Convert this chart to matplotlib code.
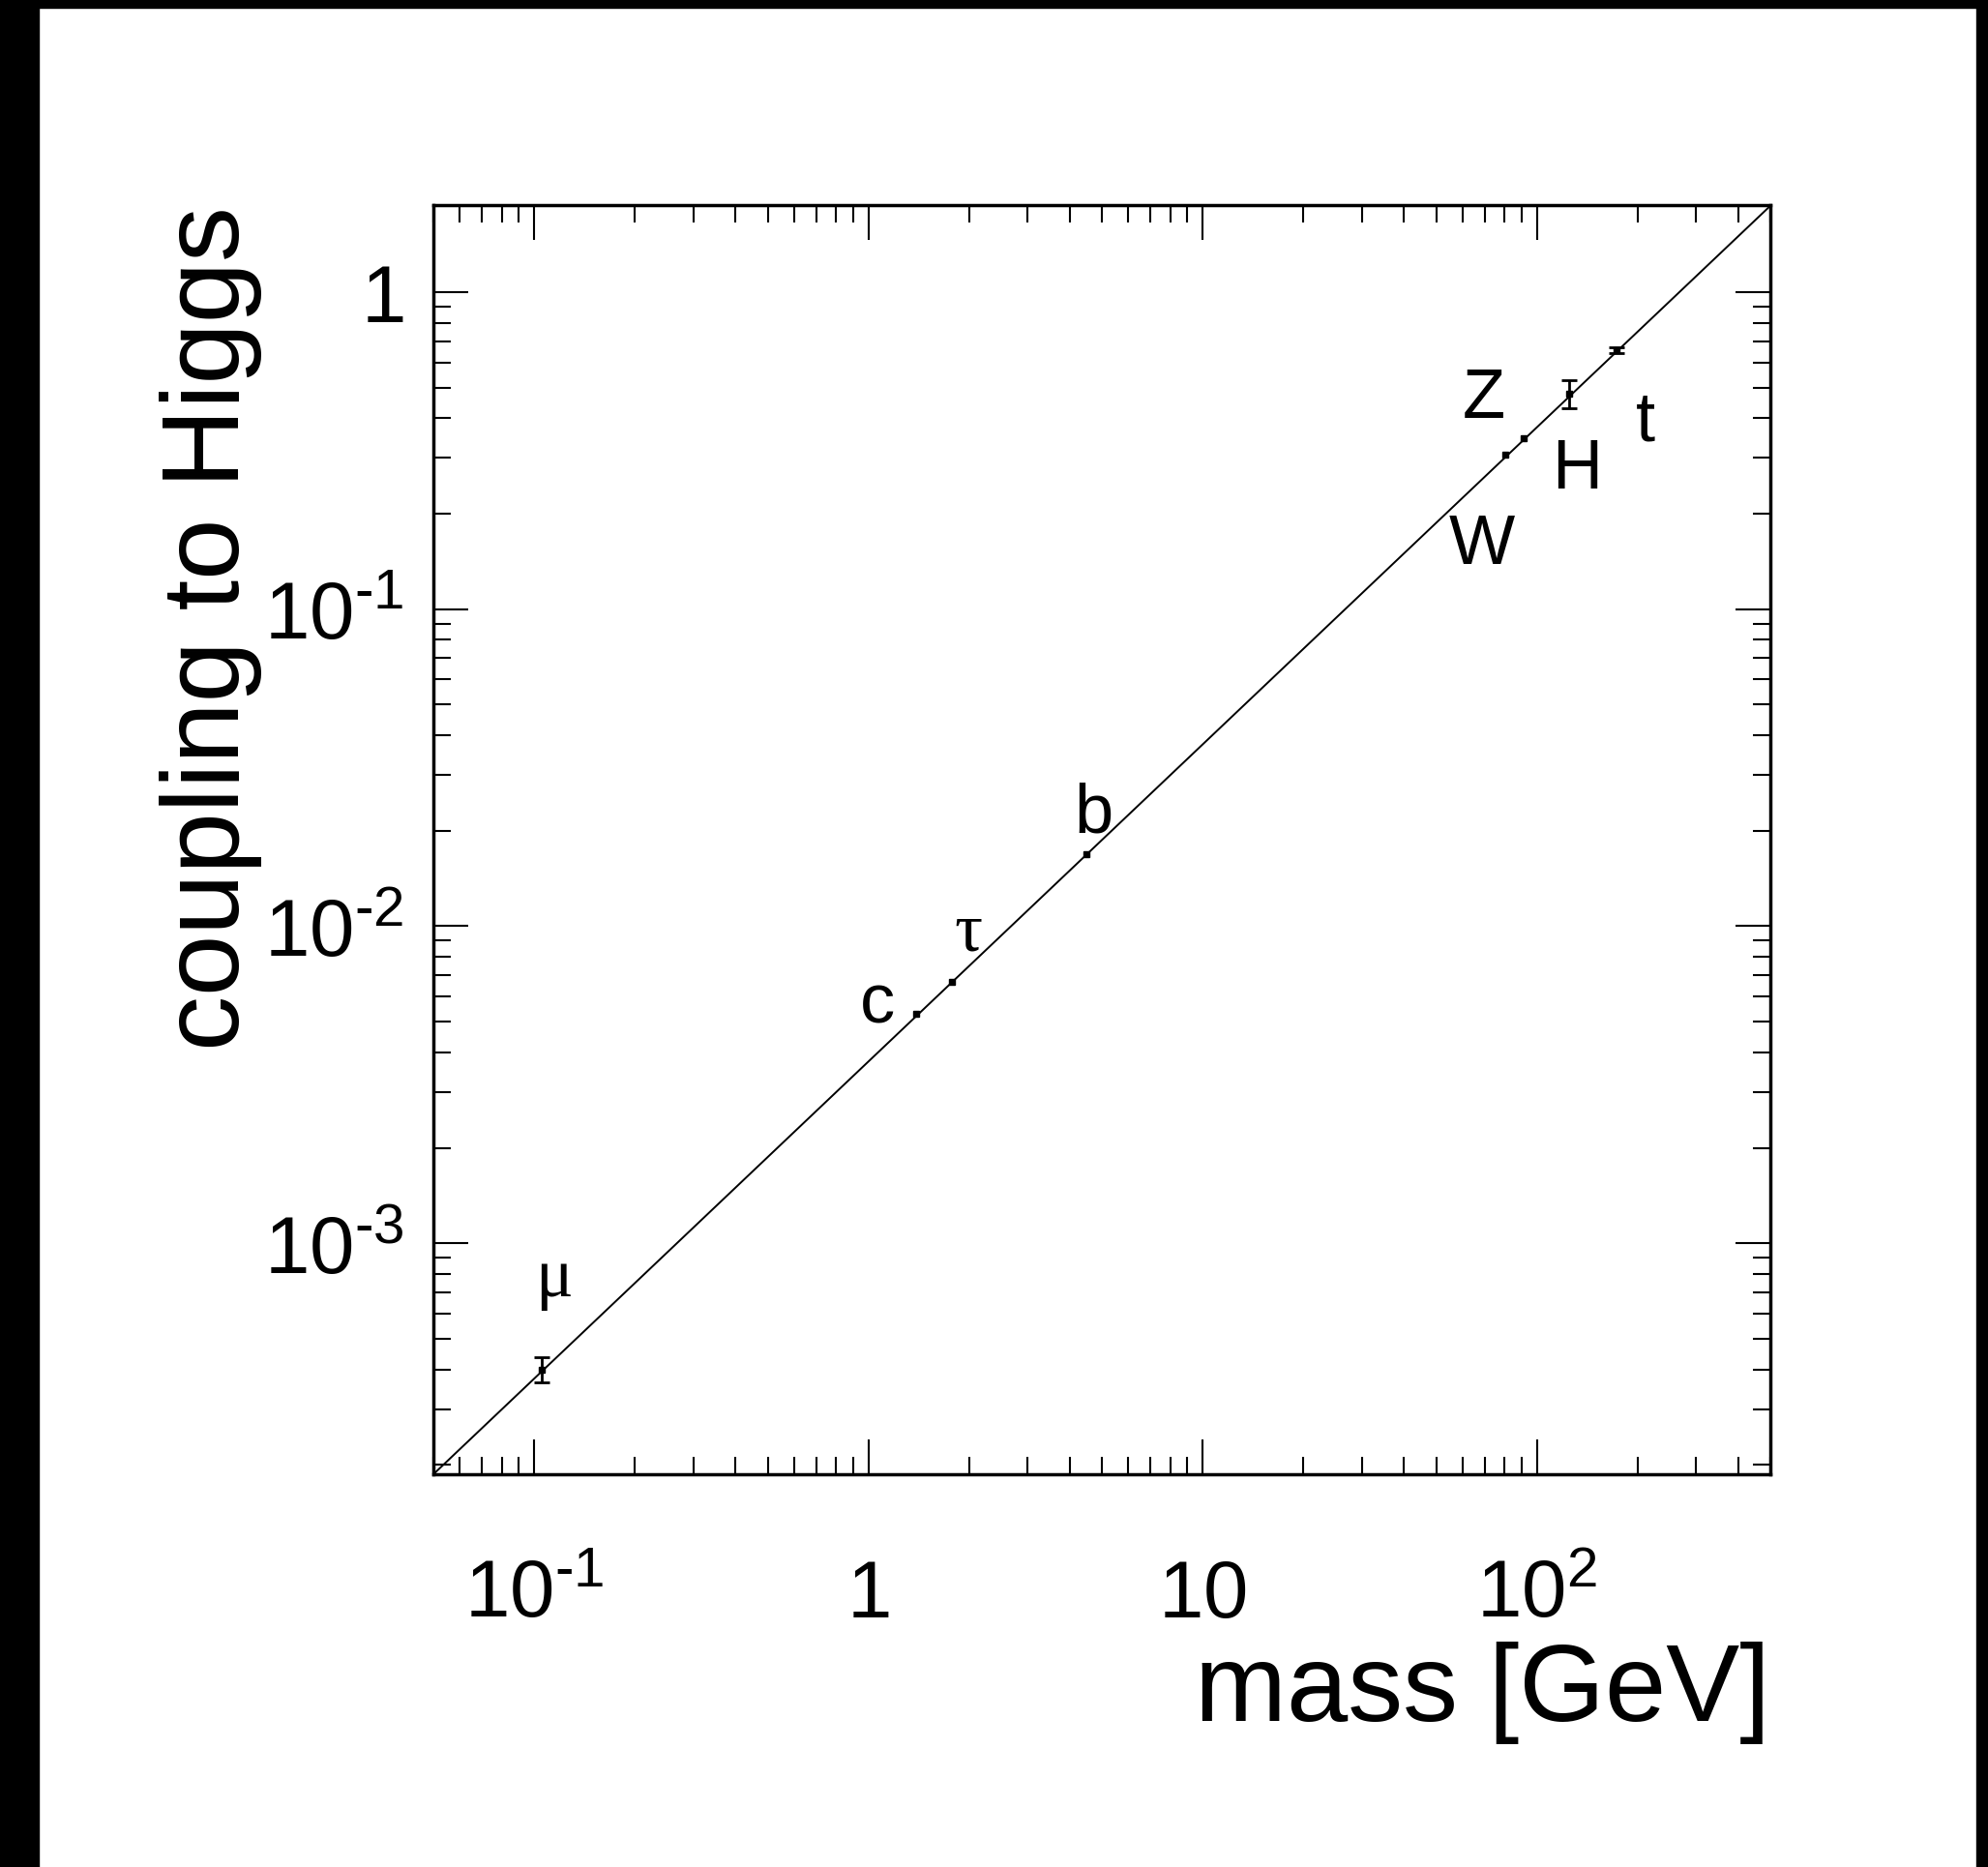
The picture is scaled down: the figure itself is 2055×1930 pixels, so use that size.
import matplotlib
matplotlib.use("Agg")
import matplotlib.pyplot as plt
from matplotlib.patches import Rectangle
from matplotlib.ticker import FixedLocator, FixedFormatter, LogLocator, NullFormatter

plt.rcParams['font.family'] = ['Liberation Sans', 'DejaVu Sans']
plt.rcParams['mathtext.fontset'] = 'custom'
plt.rcParams['mathtext.rm'] = 'Liberation Sans'
plt.rcParams['mathtext.it'] = 'Liberation Sans:italic'

# particle masses [GeV] and their couplings to the Higgs
names = ['mu', 'c', 'tau', 'b', 'W', 'Z', 'H', 't']
labels = [u'\u03bc', 'c', u'\u03c4', 'b', 'W', 'Z', 'H', 't']
mass = [0.1057, 1.39, 1.777, 4.5, 80.4, 91.2, 125.0, 173.0]
coupling = [4.0e-4, 5.3e-3, 6.68e-3, 1.69e-2, 0.307, 0.346, 0.479, 0.656]
err_lo = [0.36e-4, 0, 0, 0, 0, 0, 0.05, 0.013]
err_hi = [0.36e-4, 0, 0, 0, 0, 0, 0.05, 0.013]

# straight m/v line across the plot
line_mass = [0.05, 500.0]
line_coupling = [1.87e-4, 1.87]

xticks = [0.1, 1, 10, 100]
xticklabels = [r'$\mathregular{10^{\text{-}1}}$', r'$\mathregular{1}$',
               r'$\mathregular{10}$', r'$\mathregular{10^{2}}$']
yticks = [1e-3, 1e-2, 1e-1, 1]
yticklabels = [r'$\mathregular{10^{\text{-}3}}$', r'$\mathregular{10^{\text{-}2}}$',
               r'$\mathregular{10^{\text{-}1}}$', r'$\mathregular{1}$']

# label offsets in points from each point
offsets = {'mu': (8.6, 68), 'c': (-29, 7), 'tau': (12, 37), 'b': (5, 30),
           'W': (-17, -67), 'Z': (-29.5, 29), 'H': (6, -57), 't': (21.5, -53)}

fig = plt.figure(figsize=(20.55, 19.31), dpi=100)
fig.patch.set_facecolor('white')
# dark frame strips round the canvas
fig.patches.append(Rectangle((0, 0), 40/2055., 1, transform=fig.transFigure, color='black', zorder=0))
fig.patches.append(Rectangle((0, 1-9/1931.), 1, 9/1931., transform=fig.transFigure, color='black', zorder=0))
fig.patches.append(Rectangle((1-12/2055., 0), 12/2055., 1, transform=fig.transFigure, color='black', zorder=0))

ax = fig.add_axes([448/2055., 1-1525/1931., 1382/2055., 1312/1931.])
ax.set_xscale('log')
ax.set_yscale('log')
ax.set_xlim(0.05, 500)
ax.set_ylim(1.87e-4, 1.88)

ax.plot(line_mass, line_coupling, color='black', lw=1.4)
ax.plot(mass, coupling, 's', color='black', ms=4)
# error bars only where there is an uncertainty
idx = [i for i in range(len(mass)) if err_lo[i] > 0 or err_hi[i] > 0]
ax.errorbar([mass[i] for i in idx], [coupling[i] for i in idx],
            yerr=[[err_lo[i] for i in idx], [err_hi[i] for i in idx]],
            fmt='none', ecolor='black', elinewidth=2, capsize=5.5, capthick=2)

for n, lab, m, c in zip(names, labels, mass, coupling):
    fam = ['Liberation Serif'] if n in ('mu', 'tau') else ['Liberation Sans']
    ax.annotate(lab, (m, c), xytext=offsets[n], textcoords='offset points',
                ha='center', va='center', fontsize=52, family=fam)

ax.xaxis.set_major_locator(FixedLocator(xticks))
ax.xaxis.set_major_formatter(FixedFormatter(xticklabels))
ax.yaxis.set_major_locator(FixedLocator(yticks))
ax.yaxis.set_major_formatter(FixedFormatter(yticklabels))
ax.xaxis.set_minor_locator(LogLocator(base=10, subs=range(2, 10), numticks=20))
ax.yaxis.set_minor_locator(LogLocator(base=10, subs=range(2, 10), numticks=20))
ax.xaxis.set_minor_formatter(NullFormatter())
ax.yaxis.set_minor_formatter(NullFormatter())

ax.tick_params(which='both', direction='in', top=True, right=True, width=1.5)
ax.tick_params(which='major', length=26)
ax.tick_params(which='minor', length=13)
ax.tick_params(axis='x', which='major', labelsize=60, pad=62)
ax.tick_params(axis='y', which='major', labelsize=60, pad=22)
for s in ax.spines.values():
    s.set_linewidth(2.5)

ax.set_xlabel('mass [GeV]', fontsize=82, ha='right')
ax.xaxis.set_label_coords(1.0, -0.131)
ax.set_ylabel('coupling to Higgs', fontsize=82, ha='right')
ax.yaxis.set_label_coords(-0.128, 1.0)

fig.savefig('out.png', dpi=100)
